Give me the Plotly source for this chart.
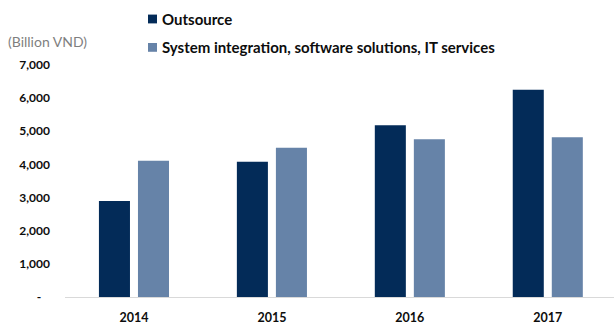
import plotly.graph_objects as go

# Revenue by segment (Billion VND)
years = ["2014", "2015", "2016", "2017"]
outsource = [2900, 4080, 5180, 6250]
system_integration = [4110, 4500, 4760, 4820]

series_names = ["Outsource", "System integration, software solutions, IT services"]
series_colors = ["#032b58", "#6683a8"]

y_tick_vals = [0, 1000, 2000, 3000, 4000, 5000, 6000, 7000]
y_tick_text = ["-\u00a0\u00a0\u00a0", "1,000", "2,000", "3,000", "4,000", "5,000", "6,000", "7,000"]

FONT = "Lato"
W, H = 614, 325
ML, MR, MT, MB = 65, 0, 65, 23
PW, PH = W - ML - MR, H - MT - MB


def px_x(px):
    return (px - ML) / PW


def px_y(py):
    return (H - MB - py) / PH


fig = go.Figure()
for name, vals, col in zip(series_names, [outsource, system_integration], series_colors):
    fig.add_trace(go.Bar(
        x=years, y=vals, name=name,
        marker=dict(color=col, line=dict(width=0)),
        showlegend=False,
    ))

# legend entries: small colour square followed by bold label
legend_rows = [18, 47]
for name, col, ry in zip(series_names, series_colors, legend_rows):
    fig.add_shape(type="rect", xref="paper", yref="paper",
                  x0=px_x(148), x1=px_x(157), y0=px_y(ry + 4.5), y1=px_y(ry - 4.5),
                  fillcolor=col, line=dict(width=0))
    fig.add_annotation(xref="paper", yref="paper", x=px_x(160), y=px_y(ry),
                       xanchor="left", yanchor="middle", showarrow=False,
                       text=name, font=dict(family=FONT, size=15, color="#0d0d0d", weight="bold"))

fig.add_annotation(xref="paper", yref="paper", x=px_x(6), y=px_y(41),
                   xanchor="left", yanchor="middle", showarrow=False,
                   text="(Billion VND)", font=dict(family=FONT, size=14, color="#7f7f7f"))

fig.update_layout(
    width=W, height=H,
    margin=dict(l=ML, r=MR, t=MT, b=MB, pad=0),
    paper_bgcolor="white", plot_bgcolor="white",
    barmode="group", bargap=0.434, bargroupgap=0.205,
    font=dict(family=FONT),
    xaxis=dict(
        type="category", range=[-0.5, 3.48],
        showline=True, linecolor="#d9d9d9", linewidth=1,
        showgrid=False, zeroline=False, ticks="",
        tickfont=dict(family=FONT, size=12.5, color="#0d0d0d", weight="bold"),
        ticklabelstandoff=9,
    ),
    yaxis=dict(
        range=[0, 7000], tickvals=y_tick_vals, ticktext=y_tick_text,
        showgrid=False, zeroline=False, showline=False, ticks="",
        tickfont=dict(family=FONT, size=12, color="#0d0d0d", weight="bold"),
        ticklabelstandoff=14,
    ),
)

fig.write_html("out.html")
